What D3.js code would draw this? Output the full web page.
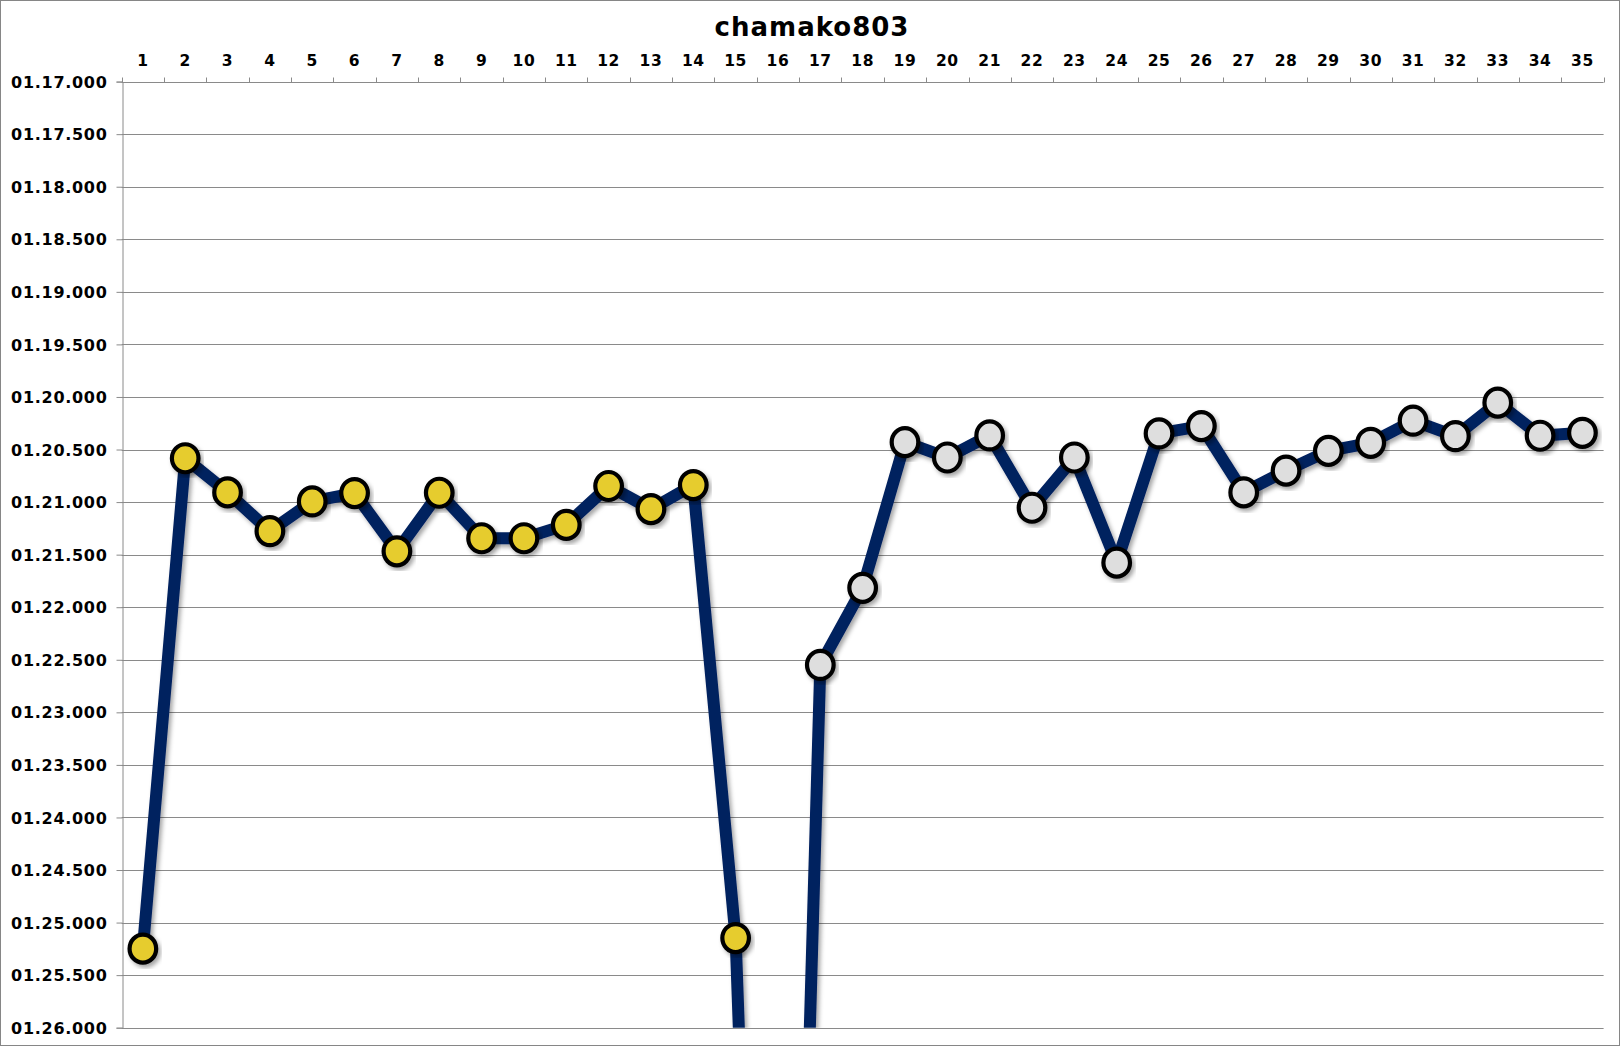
<!DOCTYPE html>
<html>
<head>
<meta charset="utf-8">
<script src="https://cdn.jsdelivr.net/npm/d3@7"></script>
<style>
  html, body { margin: 0; padding: 0; background: #fff; }
  svg { display: block; }
  .lbl { font-family: "DejaVu Sans", Verdana, sans-serif; font-weight: bold; fill: #000; }
</style>
</head>
<body>
<svg id="chart" width="1620" height="1046"></svg>
<script>
// ---- data ----
const title = "chamako803";
const laps = d3.range(1, 36);
// lap times in seconds (01.20.500 = 80.5 s)
const lapTimes = [
  85.248, 80.583, 80.908, 81.277, 80.994, 80.914, 81.468, 80.911, 81.344, 81.344,
  81.217, 80.847, 81.067, 80.838, 85.147, 96.5, 82.549, 81.816, 80.430, 80.576,
  80.366, 81.054, 80.576, 81.576, 80.347, 80.277, 80.908, 80.701, 80.513, 80.436,
  80.226, 80.373, 80.054, 80.369, 80.341
];
// marker fill group: 1 = yellow (laps 1-15), 2 = grey (laps 16+)
const markerGroup = laps.map(l => l <= 15 ? 1 : 2);
const yTickValues = [77, 77.5, 78, 78.5, 79, 79.5, 80, 80.5, 81, 81.5, 82, 82.5, 83, 83.5, 84, 84.5, 85, 85.5, 86];
const yTickLabels = ["01.17.000","01.17.500","01.18.000","01.18.500","01.19.000","01.19.500","01.20.000","01.20.500","01.21.000","01.21.500","01.22.000","01.22.500","01.23.000","01.23.500","01.24.000","01.24.500","01.25.000","01.25.500","01.26.000"];

// ---- layout ----
const W = 1620, H = 1046;
const pLeft = 121.7, pRight = 1603.6, pTop = 81.6, pBottom = 1027.7;
const svg = d3.select("#chart");

const defs = svg.append("defs");
defs.append("clipPath").attr("id", "plotClip")
  .append("rect").attr("x", pLeft).attr("y", pTop - 30).attr("width", pRight - pLeft + 30).attr("height", pBottom - pTop + 30);
const f = defs.append("filter").attr("id", "shadow").attr("x", "-20%").attr("y", "-20%").attr("width", "140%").attr("height", "140%");
f.append("feDropShadow").attr("dx", 2.5).attr("dy", 3).attr("stdDeviation", 2).attr("flood-color", "#000").attr("flood-opacity", 0.35);

// outer border
svg.append("rect").attr("x", 0.5).attr("y", 0.5).attr("width", W - 1).attr("height", H - 1)
  .attr("fill", "#fff").attr("stroke", "#868686").attr("stroke-width", 1);

const x = d3.scaleBand().domain(laps).range([pLeft, pRight]).padding(0);
const y = d3.scaleLinear().domain([77, 86]).range([pTop, pBottom]);
const cx = d => x(d) + x.bandwidth() / 2;

// gridlines
svg.append("g").selectAll("line").data(yTickValues.slice(1)).join("line")
  .attr("x1", pLeft).attr("x2", pRight)
  .attr("y1", d => Math.round(y(d)) + 0.5).attr("y2", d => Math.round(y(d)) + 0.5)
  .attr("stroke", "#8a8a8a").attr("stroke-width", 1);

// left axis
const yAxis = d3.axisLeft(y).tickValues(yTickValues)
  .tickFormat((d, i) => yTickLabels[i]).tickSize(6).tickPadding(9);
const gy = svg.append("g").attr("transform", `translate(${Math.round(pLeft) + 0.5},0)`).call(yAxis);
gy.select(".domain").attr("stroke", "#8a8a8a");
gy.selectAll(".tick line").attr("stroke", "#8a8a8a");
gy.selectAll(".tick text").attr("class", "lbl").style("font-size", "16px").style("letter-spacing", "0.7px")
  .attr("dy", "0.35em");

// top axis (category ticks between categories)
const gx = svg.append("g").attr("transform", `translate(0,${Math.round(pTop) + 0.5})`);
gx.append("line").attr("x1", pLeft).attr("x2", pRight).attr("stroke", "#8a8a8a");
gx.selectAll("line.t").data(laps.concat([36])).join("line").attr("class", "t")
  .attr("x1", d => Math.round(d === 36 ? pRight : x(d)) + 0.5)
  .attr("x2", d => Math.round(d === 36 ? pRight : x(d)) + 0.5)
  .attr("y1", 0).attr("y2", -5).attr("stroke", "#8a8a8a");
gx.selectAll("text").data(laps).join("text").attr("class", "lbl")
  .attr("x", d => cx(d)).attr("y", -22).attr("dy", "0.35em")
  .attr("text-anchor", "middle").style("font-size", "15.5px").style("letter-spacing", "0.6px")
  .text(d => d);

// title
svg.append("text").attr("class", "lbl").attr("x", 812).attr("y", 27).attr("dy", "0.35em")
  .attr("text-anchor", "middle").style("font-size", "26px").style("letter-spacing", "1px")
  .text(title);

// line + markers
const plot = svg.append("g").attr("clip-path", "url(#plotClip)");
const line = d3.line().x((d, i) => cx(laps[i])).y(d => y(d));
plot.append("path").datum(lapTimes).attr("d", line)
  .attr("fill", "none").attr("stroke", "#03205e").attr("stroke-width", 12)
  .attr("stroke-linejoin", "round").attr("filter", "url(#shadow)");

const colors = { 1: "#e6cc2f", 2: "#dedede" };
plot.selectAll("ellipse").data(lapTimes).join("ellipse")
  .attr("cx", (d, i) => cx(laps[i])).attr("cy", d => y(d)).attr("rx", 13.3).attr("ry", 14)
  .attr("fill", (d, i) => colors[markerGroup[i]]).attr("stroke", "#000").attr("stroke-width", 4.2)
  .attr("filter", "url(#shadow)");
</script>
</body>
</html>
